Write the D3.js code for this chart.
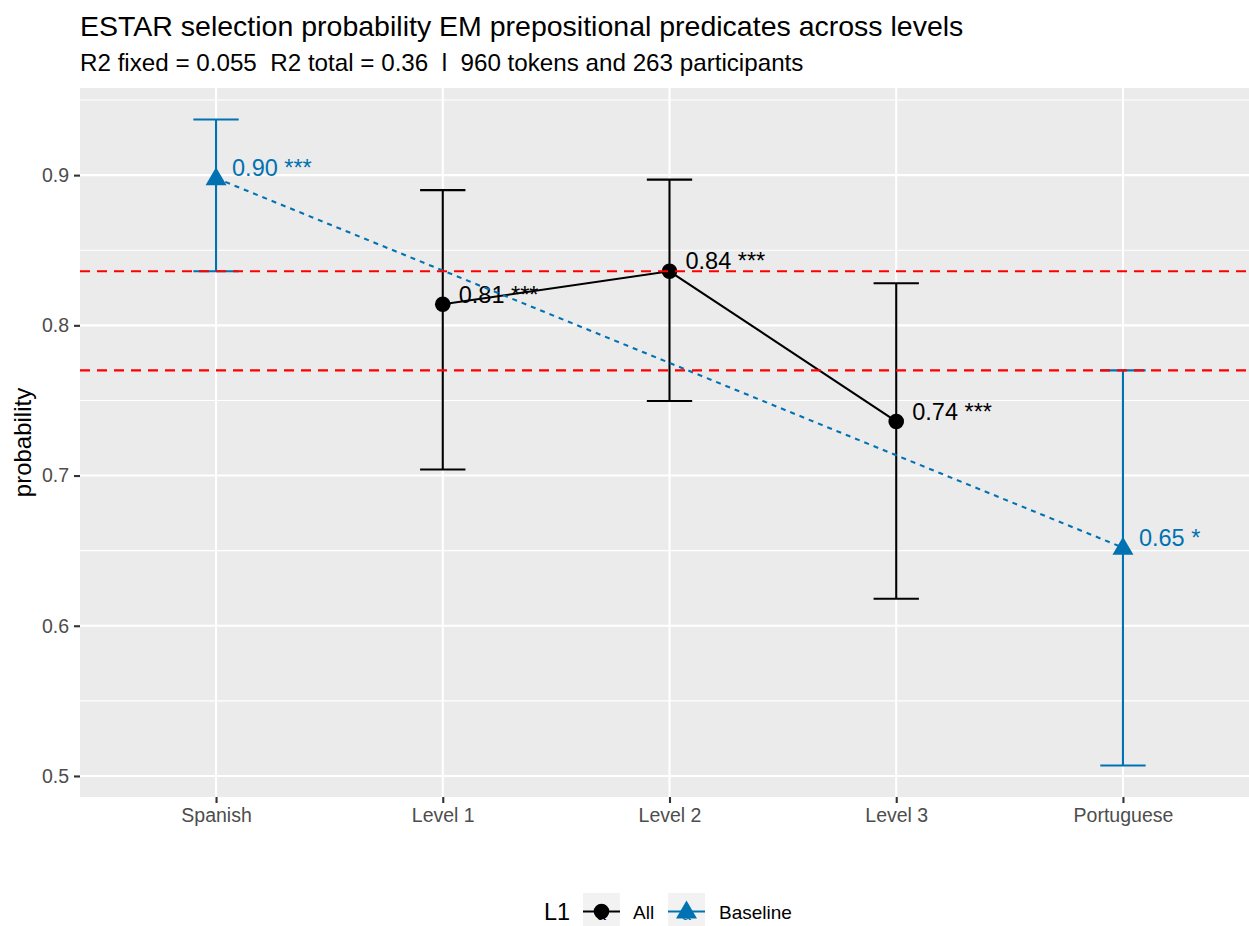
<!DOCTYPE html>
<html>
<head>
<meta charset="utf-8">
<script src="https://cdn.jsdelivr.net/npm/d3@7"></script>
<style>
  html, body { margin: 0; padding: 0; background: #fff; }
  svg text { font-family: "Liberation Sans", Arial, Helvetica, sans-serif; white-space: pre; }
</style>
</head>
<body>
<svg id="chart" width="1249" height="926"></svg>
<script>
// Categories along the x axis
const categories = ["Spanish", "Level 1", "Level 2", "Level 3", "Portuguese"];

// "All" learners: estimated probability and confidence interval per level
const allCats  = ["Level 1", "Level 2", "Level 3"];
const allProb  = [0.814, 0.836, 0.736];
const allLow   = [0.704, 0.7496, 0.618];
const allHigh  = [0.890, 0.897, 0.828];
const allStars = ["***", "***", "***"];

// Native-speaker baselines
const baseCats  = ["Spanish", "Portuguese"];
const baseProb  = [0.898, 0.652];
const baseLow   = [0.836, 0.507];
const baseHigh  = [0.937, 0.770];
const baseStars = ["***", "*"];

// Reference lines (baseline interval bounds)
const refLines = [0.836, 0.770];

// Axis ticks
const yTicks = [0.5, 0.6, 0.7, 0.8, 0.9];
const yMinor = [0.55, 0.65, 0.75, 0.85, 0.95];

const titleText = "ESTAR selection probability EM prepositional predicates across levels";
const subtitleText = "R2 fixed = 0.055  R2 total = 0.36  l  960 tokens and 263 participants";

const BLUE = "#0072B2", RED = "#FF0000", BLACK = "#000000";

const svg = d3.select("#chart");
const panel = { left: 80, right: 1259, top: 88, bottom: 797 };

const x = d3.scalePoint().domain(categories).range([panel.left, panel.right]).padding(0.6);
const y = d3.scaleLinear().domain([0.486, 0.958]).range([panel.bottom, panel.top]);

// Panel background
svg.append("rect")
  .attr("x", panel.left).attr("y", panel.top)
  .attr("width", panel.right - panel.left).attr("height", panel.bottom - panel.top)
  .attr("fill", "#EBEBEB");

const grid = svg.append("g");
grid.selectAll(".minor").data(yMinor.filter(v => y(v) > panel.top && y(v) < panel.bottom)).join("line")
  .attr("x1", panel.left).attr("x2", panel.right)
  .attr("y1", d => y(d)).attr("y2", d => y(d))
  .attr("stroke", "#fff").attr("stroke-width", 1.1);
grid.selectAll(".major").data(yTicks).join("line")
  .attr("x1", panel.left).attr("x2", panel.right)
  .attr("y1", d => y(d)).attr("y2", d => y(d))
  .attr("stroke", "#fff").attr("stroke-width", 2.1);
grid.selectAll(".vmajor").data(categories).join("line")
  .attr("x1", d => x(d)).attr("x2", d => x(d))
  .attr("y1", panel.top).attr("y2", panel.bottom)
  .attr("stroke", "#fff").attr("stroke-width", 2.1);

// Axes
const yAxis = svg.append("g").attr("transform", `translate(${panel.left},0)`)
  .call(d3.axisLeft(y).tickValues(yTicks).tickSize(6).tickPadding(5).tickFormat(d3.format(".1f")));
const xAxis = svg.append("g").attr("transform", `translate(0,${panel.bottom})`)
  .call(d3.axisBottom(x).tickSize(6).tickPadding(5));
[yAxis, xAxis].forEach(a => {
  a.select(".domain").remove();
  a.selectAll(".tick line").attr("stroke", "#333333").attr("stroke-width", 2.1);
  a.selectAll(".tick text").attr("fill", "#4D4D4D").attr("font-size", 19.5)
    .style("font-family", "'Liberation Sans', Arial, sans-serif");
});

// Series records
const allData = allCats.map((c, i) => ({ c, p: allProb[i], lo: allLow[i], hi: allHigh[i], s: allStars[i] }));
const baseData = baseCats.map((c, i) => ({ c, p: baseProb[i], lo: baseLow[i], hi: baseHigh[i], s: baseStars[i] }));
const capHalf = x.step() * 0.1;

function errorbars(data, color) {
  const g = svg.append("g").attr("stroke", color).attr("stroke-width", 2.1).attr("fill", "none");
  data.forEach(d => {
    const cx = x(d.c);
    g.append("path").attr("d",
      `M${cx - capHalf},${y(d.hi)}H${cx + capHalf}M${cx},${y(d.hi)}V${y(d.lo)}M${cx - capHalf},${y(d.lo)}H${cx + capHalf}`);
  });
}
errorbars(allData, BLACK);
errorbars(baseData, BLUE);

function labels(data, color) {
  svg.append("g").selectAll("text").data(data).join("text")
    .attr("x", d => x(d.c) + 16)
    .attr("y", d => y(d.p) - 10)
    .attr("dy", "0.35em")
    .attr("fill", color).attr("font-size", 23.5)
    .text(d => `${d3.format(".2f")(d.p)} ${d.s}`);
}
labels(allData, BLACK);
labels(baseData, BLUE);

const line = d3.line().x(d => x(d.c)).y(d => y(d.p));
svg.append("path").datum(allData).attr("d", line)
  .attr("fill", "none").attr("stroke", BLACK).attr("stroke-width", 2.1);
svg.append("path").datum(baseData).attr("d", line)
  .attr("fill", "none").attr("stroke", BLUE).attr("stroke-width", 2.1)
  .attr("stroke-dasharray", "5,5");

const tri = "M0,-11L10.5,7L-10.5,7Z";
svg.append("g").selectAll("circle").data(allData).join("circle")
  .attr("cx", d => x(d.c)).attr("cy", d => y(d.p)).attr("r", 7.8).attr("fill", BLACK);
svg.append("g").selectAll("path").data(baseData).join("path")
  .attr("transform", d => `translate(${x(d.c)},${y(d.p)})`).attr("d", tri).attr("fill", BLUE);

// Horizontal reference lines
svg.append("g").selectAll("line").data(refLines).join("line")
  .attr("x1", panel.left).attr("x2", panel.right)
  .attr("y1", d => y(d)).attr("y2", d => y(d))
  .attr("stroke", RED).attr("stroke-width", 2.1).attr("stroke-dasharray", "10,7");

// Titles
svg.append("text").attr("x", 80).attr("y", 36).attr("font-size", 28.5).attr("fill", "#000").text(titleText);
svg.append("text").attr("x", 80).attr("y", 71).attr("font-size", 24.2).attr("fill", "#000").text(subtitleText);
svg.append("text")
  .attr("transform", `translate(31,${(panel.top + panel.bottom) / 2}) rotate(-90)`)
  .attr("text-anchor", "middle").attr("font-size", 24).attr("fill", "#000").text("probability");

// Legend
const legendItems = [
  { label: "All", color: BLACK, shape: "circle" },
  { label: "Baseline", color: BLUE, shape: "triangle" }
];
const leg = svg.append("g");
leg.append("text").attr("x", 544).attr("y", 912).attr("dy", "0.35em").attr("font-size", 23.5).text("L1");
const keyX = [583, 668], labelX = [633, 719];
legendItems.forEach((it, i) => {
  const kx = keyX[i], ky = 893, ks = 37;
  const cx = kx + ks / 2, cy = ky + ks / 2;
  leg.append("rect").attr("x", kx).attr("y", ky).attr("width", ks).attr("height", ks).attr("fill", "#F2F2F2");
  leg.append("text").attr("x", cx).attr("y", cy + 8).attr("text-anchor", "middle")
    .attr("font-size", 16).attr("fill", it.color).text("a");
  leg.append("line").attr("x1", kx).attr("x2", kx + ks).attr("y1", cy).attr("y2", cy)
    .attr("stroke", it.color).attr("stroke-width", 2.1);
  if (it.shape === "circle") {
    leg.append("circle").attr("cx", cx).attr("cy", cy).attr("r", 7.8).attr("fill", it.color);
  } else {
    leg.append("path").attr("transform", `translate(${cx},${cy})`).attr("d", tri).attr("fill", it.color);
  }
  leg.append("text").attr("x", labelX[i]).attr("y", 912).attr("dy", "0.35em")
    .attr("font-size", 19).attr("fill", "#000").text(it.label);
});
</script>
</body>
</html>
